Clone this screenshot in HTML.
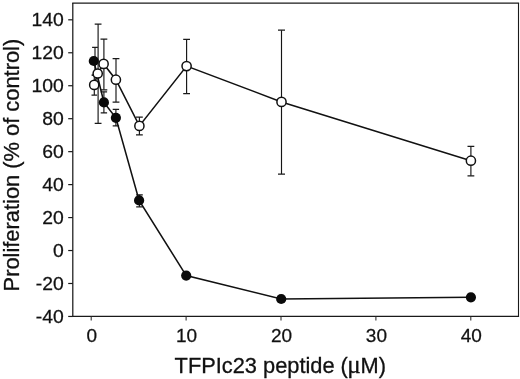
<!DOCTYPE html>
<html><head><meta charset="utf-8"><title>chart</title>
<style>html,body{margin:0;padding:0;background:#fff;overflow:hidden}body{width:520px;height:379px;position:relative}</style></head>
<body>
<svg width="520" height="379" viewBox="0 0 520 379" style="position:absolute;left:0;top:0">
<rect x="0" y="0" width="520" height="379" fill="#fff"/>
<path d="M72.2 3.1H519.1" stroke="#1a1a1a" stroke-width="1.4" fill="none"/>
<path d="M72.2 316.4H519.1" stroke="#1a1a1a" stroke-width="1.15" fill="none"/>
<path d="M72.8 3.1V316.4" stroke="#1a1a1a" stroke-width="1.25" fill="none"/>
<path d="M518.5 3.1V316.4" stroke="#1a1a1a" stroke-width="1.1" fill="none"/>
<line x1="68.2" x2="72.8" y1="316.45" y2="316.45" stroke="#1a1a1a" stroke-width="1.2"/>
<line x1="68.2" x2="72.8" y1="283.49" y2="283.49" stroke="#1a1a1a" stroke-width="1.2"/>
<line x1="68.2" x2="72.8" y1="250.53" y2="250.53" stroke="#1a1a1a" stroke-width="1.2"/>
<line x1="68.2" x2="72.8" y1="217.57" y2="217.57" stroke="#1a1a1a" stroke-width="1.2"/>
<line x1="68.2" x2="72.8" y1="184.61" y2="184.61" stroke="#1a1a1a" stroke-width="1.2"/>
<line x1="68.2" x2="72.8" y1="151.65" y2="151.65" stroke="#1a1a1a" stroke-width="1.2"/>
<line x1="68.2" x2="72.8" y1="118.69" y2="118.69" stroke="#1a1a1a" stroke-width="1.2"/>
<line x1="68.2" x2="72.8" y1="85.73" y2="85.73" stroke="#1a1a1a" stroke-width="1.2"/>
<line x1="68.2" x2="72.8" y1="52.77" y2="52.77" stroke="#1a1a1a" stroke-width="1.2"/>
<line x1="68.2" x2="72.8" y1="19.81" y2="19.81" stroke="#1a1a1a" stroke-width="1.2"/>
<line x1="91.20" x2="91.20" y1="316.4" y2="320.4" stroke="#2a2a2a" stroke-width="1.05"/>
<line x1="186.10" x2="186.10" y1="316.4" y2="320.4" stroke="#2a2a2a" stroke-width="1.05"/>
<line x1="281.00" x2="281.00" y1="316.4" y2="320.4" stroke="#2a2a2a" stroke-width="1.05"/>
<line x1="375.90" x2="375.90" y1="316.4" y2="320.4" stroke="#2a2a2a" stroke-width="1.05"/>
<line x1="470.80" x2="470.80" y1="316.4" y2="320.4" stroke="#2a2a2a" stroke-width="1.05"/>
<path d="M94.3 75.2V95.0" stroke="#151515" stroke-width="1.15" fill="none"/><path d="M91.5 75.2H97.1M91.5 95.0H97.1" stroke="#1a1a1a" stroke-width="1.25" fill="none"/>
<path d="M98.1 24.0V123.4" stroke="#151515" stroke-width="1.15" fill="none"/><path d="M94.7 24.0H101.5M94.7 123.4H101.5" stroke="#1a1a1a" stroke-width="1.25" fill="none"/>
<path d="M103.9 39.0V89.8" stroke="#151515" stroke-width="1.15" fill="none"/><path d="M100.5 39.0H107.3M100.5 89.8H107.3" stroke="#1a1a1a" stroke-width="1.25" fill="none"/>
<path d="M116.0 58.5V102.1" stroke="#151515" stroke-width="1.15" fill="none"/><path d="M112.6 58.5H119.4M112.6 102.1H119.4" stroke="#1a1a1a" stroke-width="1.25" fill="none"/>
<path d="M139.4 117.0V134.9" stroke="#151515" stroke-width="1.15" fill="none"/><path d="M136.0 117.0H142.8M136.0 134.9H142.8" stroke="#1a1a1a" stroke-width="1.25" fill="none"/>
<path d="M186.6 39.4V93.7" stroke="#151515" stroke-width="1.15" fill="none"/><path d="M183.2 39.4H190.0M183.2 93.7H190.0" stroke="#1a1a1a" stroke-width="1.25" fill="none"/>
<path d="M281.5 30.2V174.0" stroke="#151515" stroke-width="1.15" fill="none"/><path d="M278.0 30.2H285.0M278.0 174.0H285.0" stroke="#1a1a1a" stroke-width="1.25" fill="none"/>
<path d="M470.9 146.4V175.8" stroke="#151515" stroke-width="1.15" fill="none"/><path d="M467.5 146.4H474.3M467.5 175.8H474.3" stroke="#1a1a1a" stroke-width="1.25" fill="none"/>
<path d="M95.0 47.3V75.0" stroke="#151515" stroke-width="1.15" fill="none"/><path d="M92.1 47.3H97.9M92.1 75.0H97.9" stroke="#1a1a1a" stroke-width="1.25" fill="none"/>
<path d="M103.9 91.8V112.9" stroke="#151515" stroke-width="1.15" fill="none"/><path d="M100.7 91.8H107.1M100.7 112.9H107.1" stroke="#1a1a1a" stroke-width="1.25" fill="none"/>
<path d="M115.9 109.3V125.9" stroke="#151515" stroke-width="1.15" fill="none"/><path d="M112.7 109.3H119.1M112.7 125.9H119.1" stroke="#1a1a1a" stroke-width="1.25" fill="none"/>
<path d="M139.5 194.8V206.9" stroke="#151515" stroke-width="1.15" fill="none"/><path d="M136.2 194.8H142.8M136.2 206.9H142.8" stroke="#1a1a1a" stroke-width="1.25" fill="none"/>
<polyline fill="none" stroke="#111" stroke-width="1.55" points="94.2,84.9 97.7,73.5 103.6,63.9 115.9,79.7 139.4,125.9 186.6,66.1 281.5,101.9 470.9,160.7"/>
<polyline fill="none" stroke="#111" stroke-width="1.55" points="93.8,61.0 103.9,102.4 115.9,117.8 139.1,200.4 186.2,275.6 281.2,299.0 470.9,297.3"/>
<circle cx="93.8" cy="61.0" r="5.1" fill="#0a0a0a"/>
<circle cx="103.9" cy="102.4" r="5.1" fill="#0a0a0a"/>
<circle cx="115.9" cy="117.8" r="5.1" fill="#0a0a0a"/>
<circle cx="139.1" cy="200.4" r="5.1" fill="#0a0a0a"/>
<circle cx="186.2" cy="275.6" r="5.1" fill="#0a0a0a"/>
<circle cx="281.2" cy="299.0" r="5.1" fill="#0a0a0a"/>
<circle cx="470.9" cy="297.3" r="5.1" fill="#0a0a0a"/>
<circle cx="94.2" cy="84.9" r="4.6" fill="#fff" stroke="#111" stroke-width="1.5"/>
<circle cx="97.7" cy="73.5" r="4.6" fill="#fff" stroke="#111" stroke-width="1.5"/>
<circle cx="103.6" cy="63.9" r="4.6" fill="#fff" stroke="#111" stroke-width="1.5"/>
<circle cx="115.9" cy="79.7" r="4.6" fill="#fff" stroke="#111" stroke-width="1.5"/>
<circle cx="139.4" cy="125.9" r="4.6" fill="#fff" stroke="#111" stroke-width="1.5"/>
<circle cx="186.6" cy="66.1" r="4.6" fill="#fff" stroke="#111" stroke-width="1.5"/>
<circle cx="281.5" cy="101.9" r="4.6" fill="#fff" stroke="#111" stroke-width="1.5"/>
<circle cx="470.9" cy="160.7" r="4.6" fill="#fff" stroke="#111" stroke-width="1.5"/>
<g font-family="Liberation Sans, Arial, sans-serif" font-size="18.1" fill="#111" stroke="#111" stroke-width="0.25">
<text transform="translate(63.7,323.05) scale(1.07,1)" text-anchor="end">-40</text>
<text transform="translate(63.7,290.09) scale(1.07,1)" text-anchor="end">-20</text>
<text transform="translate(63.7,257.13) scale(1.07,1)" text-anchor="end">0</text>
<text transform="translate(63.7,224.17) scale(1.07,1)" text-anchor="end">20</text>
<text transform="translate(63.7,191.21) scale(1.07,1)" text-anchor="end">40</text>
<text transform="translate(63.7,158.25) scale(1.07,1)" text-anchor="end">60</text>
<text transform="translate(63.7,125.29) scale(1.07,1)" text-anchor="end">80</text>
<text transform="translate(63.7,92.33) scale(1.07,1)" text-anchor="end">100</text>
<text transform="translate(63.7,59.37) scale(1.07,1)" text-anchor="end">120</text>
<text transform="translate(63.7,26.41) scale(1.07,1)" text-anchor="end">140</text>
<text transform="translate(91.70,342.2) scale(1.05,1)" text-anchor="middle">0</text>
<text transform="translate(186.60,342.2) scale(1.05,1)" text-anchor="middle">10</text>
<text transform="translate(281.50,342.2) scale(1.05,1)" text-anchor="middle">20</text>
<text transform="translate(376.40,342.2) scale(1.05,1)" text-anchor="middle">30</text>
<text transform="translate(471.30,342.2) scale(1.05,1)" text-anchor="middle">40</text>
</g>
<g font-family="Liberation Sans, Arial, sans-serif" font-size="21.8" fill="#111" stroke="#111" stroke-width="0.3">
<text x="280.3" y="372.5" text-anchor="middle">TFPIc23 peptide (<tspan font-family="Liberation Serif, serif" font-size="25" dx="-0.7">μ</tspan>M)</text>
<text transform="translate(19.3,165.1) rotate(-90)" text-anchor="middle" font-size="21.87">Proliferation (% of control)</text>
</g>
</svg>
</body></html>
